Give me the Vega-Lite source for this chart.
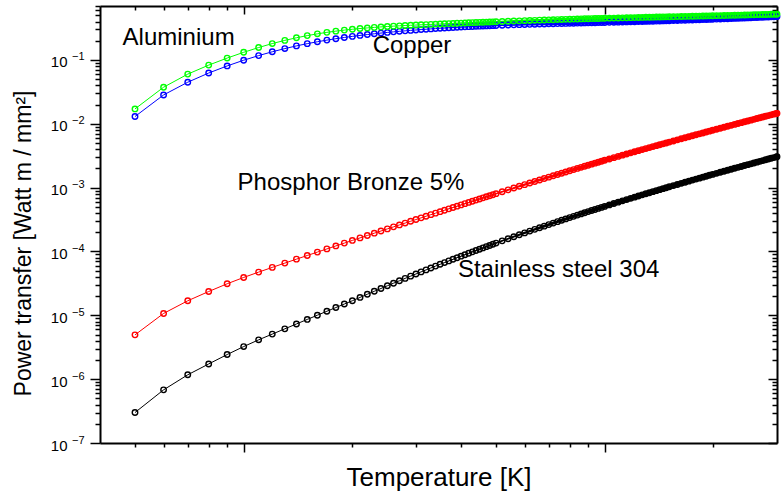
{
"$schema": "https://vega.github.io/schema/vega-lite/v6.json",
"width": 677, "height": 437,
"autosize": {"type": "none"},
"padding": {"left": 100, "top": 6, "right": 6, "bottom": 55},
"background": "white",
"config": {"view": {"stroke": null}, "font": "Liberation Sans"},
"datasets": {
"curves": [
{"T":5,"Al":0.0171,"Cu":0.0130,"PB":4.94e-6,"SS":3.00e-7},
{"T":6,"Al":0.0374,"Cu":0.0283,"PB":1.07e-5,"SS":6.80e-7},
{"T":7,"Al":0.0600,"Cu":0.0448,"PB":1.69e-5,"SS":1.17e-6},
{"T":8,"Al":0.0830,"Cu":0.0624,"PB":2.36e-5,"SS":1.73e-6},
{"T":9,"Al":0.1070,"Cu":0.0806,"PB":3.12e-5,"SS":2.43e-6},
{"T":10,"Al":0.1318,"Cu":0.0990,"PB":3.92e-5,"SS":3.24e-6},
{"T":11,"Al":0.1565,"Cu":0.1170,"PB":4.75e-5,"SS":4.13e-6},
{"T":12,"Al":0.1805,"Cu":0.1343,"PB":5.631e-5,"SS":5.08e-6},
{"T":13,"Al":0.2025,"Cu":0.1507,"PB":6.575e-5,"SS":6.14e-6},
{"T":14,"Al":0.2225,"Cu":0.1660,"PB":7.581e-5,"SS":7.32e-6},
{"T":15,"Al":0.2405,"Cu":0.1800,"PB":8.65e-5,"SS":8.62e-6},
{"T":16,"Al":0.2565,"Cu":0.1928,"PB":9.78e-5,"SS":1.004e-5},
{"T":17,"Al":0.2705,"Cu":0.2045,"PB":1.097e-4,"SS":1.158e-5},
{"T":18,"Al":0.2827,"Cu":0.2152,"PB":1.222e-4,"SS":1.324e-5},
{"T":19,"Al":0.2933,"Cu":0.2250,"PB":1.353e-4,"SS":1.502e-5},
{"T":20,"Al":0.3025,"Cu":0.2340,"PB":1.490e-4,"SS":1.692e-5},
{"T":21,"Al":0.3105,"Cu":0.2423,"PB":1.633e-4,"SS":1.907e-5},
{"T":22,"Al":0.3175,"Cu":0.2500,"PB":1.781e-4,"SS":2.137e-5},
{"T":23,"Al":0.3237,"Cu":0.2571,"PB":1.935e-4,"SS":2.378e-5},
{"T":24,"Al":0.3292,"Cu":0.2637,"PB":2.094e-4,"SS":2.633e-5},
{"T":25,"Al":0.3341,"Cu":0.2698,"PB":2.259e-4,"SS":2.902e-5},
{"T":26,"Al":0.3385,"Cu":0.2755,"PB":2.429e-4,"SS":3.183e-5},
{"T":27,"Al":0.3425,"Cu":0.2808,"PB":2.605e-4,"SS":3.478e-5},
{"T":28,"Al":0.3461,"Cu":0.2858,"PB":2.786e-4,"SS":3.786e-5},
{"T":29,"Al":0.3494,"Cu":0.2905,"PB":2.973e-4,"SS":4.107e-5},
{"T":30,"Al":0.3524,"Cu":0.2949,"PB":3.165e-4,"SS":4.442e-5},
{"T":31,"Al":0.3552,"Cu":0.2990,"PB":3.363e-4,"SS":4.789e-5},
{"T":32,"Al":0.3580,"Cu":0.3029,"PB":3.565e-4,"SS":5.148e-5},
{"T":33,"Al":0.3607,"Cu":0.3066,"PB":3.773e-4,"SS":5.518e-5},
{"T":34,"Al":0.3633,"Cu":0.3101,"PB":3.985e-4,"SS":5.900e-5},
{"T":35,"Al":0.3658,"Cu":0.3134,"PB":4.203e-4,"SS":6.294e-5},
{"T":36,"Al":0.3683,"Cu":0.3165,"PB":4.425e-4,"SS":6.700e-5},
{"T":37,"Al":0.3708,"Cu":0.3194,"PB":4.653e-4,"SS":7.117e-5},
{"T":38,"Al":0.3731,"Cu":0.3222,"PB":4.885e-4,"SS":7.546e-5},
{"T":39,"Al":0.3754,"Cu":0.3249,"PB":5.123e-4,"SS":7.987e-5},
{"T":40,"Al":0.3777,"Cu":0.3274,"PB":5.365e-4,"SS":8.439e-5},
{"T":41,"Al":0.3799,"Cu":0.3298,"PB":5.612e-4,"SS":8.903e-5},
{"T":42,"Al":0.3820,"Cu":0.3320,"PB":5.864e-4,"SS":9.376e-5},
{"T":43,"Al":0.3841,"Cu":0.3341,"PB":6.120e-4,"SS":9.860e-5},
{"T":44,"Al":0.3861,"Cu":0.3362,"PB":6.381e-4,"SS":1.0354e-4},
{"T":45,"Al":0.3881,"Cu":0.3381,"PB":6.646e-4,"SS":1.0858e-4},
{"T":46,"Al":0.3900,"Cu":0.3399,"PB":6.916e-4,"SS":1.1372e-4},
{"T":47,"Al":0.3919,"Cu":0.3417,"PB":7.190e-4,"SS":1.1897e-4},
{"T":48,"Al":0.3937,"Cu":0.3433,"PB":7.469e-4,"SS":1.2431e-4},
{"T":49,"Al":0.3955,"Cu":0.3449,"PB":7.752e-4,"SS":1.2975e-4},
{"T":50,"Al":0.3972,"Cu":0.3464,"PB":8.040e-4,"SS":1.3530e-4},
{"T":52,"Al":0.4005,"Cu":0.3493,"PB":8.628e-4,"SS":1.4666e-4},
{"T":54,"Al":0.4037,"Cu":0.3520,"PB":9.232e-4,"SS":1.5836e-4},
{"T":56,"Al":0.4068,"Cu":0.3545,"PB":9.852e-4,"SS":1.7041e-4},
{"T":58,"Al":0.4097,"Cu":0.3568,"PB":1.0488e-3,"SS":1.8280e-4},
{"T":60,"Al":0.4125,"Cu":0.3589,"PB":1.1140e-3,"SS":1.9552e-4},
{"T":62,"Al":0.4151,"Cu":0.3609,"PB":1.1807e-3,"SS":2.0857e-4},
{"T":64,"Al":0.4177,"Cu":0.3628,"PB":1.2486e-3,"SS":2.2192e-4},
{"T":66,"Al":0.4201,"Cu":0.3646,"PB":1.3179e-3,"SS":2.3556e-4},
{"T":68,"Al":0.4224,"Cu":0.3663,"PB":1.3884e-3,"SS":2.4951e-4},
{"T":70,"Al":0.4247,"Cu":0.3679,"PB":1.4603e-3,"SS":2.6375e-4},
{"T":72,"Al":0.4268,"Cu":0.3695,"PB":1.5334e-3,"SS":2.7828e-4},
{"T":74,"Al":0.4289,"Cu":0.3710,"PB":1.6079e-3,"SS":2.9309e-4},
{"T":76,"Al":0.4308,"Cu":0.3724,"PB":1.6836e-3,"SS":3.0817e-4},
{"T":78,"Al":0.4327,"Cu":0.3738,"PB":1.7607e-3,"SS":3.2353e-4},
{"T":80,"Al":0.4345,"Cu":0.3751,"PB":1.8390e-3,"SS":3.3917e-4},
{"T":82,"Al":0.4362,"Cu":0.3764,"PB":1.9185e-3,"SS":3.5506e-4},
{"T":84,"Al":0.4379,"Cu":0.3777,"PB":1.9990e-3,"SS":3.7119e-4},
{"T":86,"Al":0.4395,"Cu":0.3789,"PB":2.0805e-3,"SS":3.8755e-4},
{"T":88,"Al":0.4411,"Cu":0.3801,"PB":2.1630e-3,"SS":4.0415e-4},
{"T":90,"Al":0.4426,"Cu":0.3812,"PB":2.2465e-3,"SS":4.2098e-4},
{"T":92,"Al":0.4440,"Cu":0.3823,"PB":2.3310e-3,"SS":4.3805e-4},
{"T":94,"Al":0.4454,"Cu":0.3834,"PB":2.4165e-3,"SS":4.5535e-4},
{"T":96,"Al":0.4468,"Cu":0.3845,"PB":2.5030e-3,"SS":4.7289e-4},
{"T":98,"Al":0.4481,"Cu":0.3856,"PB":2.5905e-3,"SS":4.9066e-4},
{"T":100,"Al":0.4494,"Cu":0.3866,"PB":2.6790e-3,"SS":5.0866e-4},
{"T":103,"Al":0.4512,"Cu":0.3881,"PB":2.8133e-3,"SS":5.3606e-4},
{"T":106,"Al":0.4529,"Cu":0.3896,"PB":2.9491e-3,"SS":5.6389e-4},
{"T":109,"Al":0.4546,"Cu":0.3911,"PB":3.0864e-3,"SS":5.9215e-4},
{"T":112,"Al":0.4563,"Cu":0.3926,"PB":3.2252e-3,"SS":6.2085e-4},
{"T":115,"Al":0.4580,"Cu":0.3940,"PB":3.3656e-3,"SS":6.4997e-4},
{"T":118,"Al":0.4596,"Cu":0.3955,"PB":3.5075e-3,"SS":6.7953e-4},
{"T":121,"Al":0.4611,"Cu":0.3970,"PB":3.6510e-3,"SS":7.0952e-4},
{"T":124,"Al":0.4626,"Cu":0.3985,"PB":3.7960e-3,"SS":7.3990e-4},
{"T":127,"Al":0.4641,"Cu":0.3999,"PB":3.9425e-3,"SS":7.7066e-4},
{"T":130,"Al":0.4656,"Cu":0.4014,"PB":4.0905e-3,"SS":8.0181e-4},
{"T":133,"Al":0.4670,"Cu":0.4029,"PB":4.2401e-3,"SS":8.3334e-4},
{"T":136,"Al":0.4684,"Cu":0.4043,"PB":4.3912e-3,"SS":8.6526e-4},
{"T":139,"Al":0.4698,"Cu":0.4058,"PB":4.5438e-3,"SS":8.9756e-4},
{"T":142,"Al":0.4711,"Cu":0.4072,"PB":4.6979e-3,"SS":9.3023e-4},
{"T":145,"Al":0.4724,"Cu":0.4086,"PB":4.8536e-3,"SS":9.6325e-4},
{"T":148,"Al":0.4736,"Cu":0.4101,"PB":5.0108e-3,"SS":9.9659e-4},
{"T":151,"Al":0.4748,"Cu":0.4115,"PB":5.1696e-3,"SS":1.03028e-3},
{"T":155,"Al":0.4764,"Cu":0.4134,"PB":5.3835e-3,"SS":1.07571e-3},
{"T":159,"Al":0.4779,"Cu":0.4153,"PB":5.6000e-3,"SS":1.12174e-3},
{"T":163,"Al":0.4795,"Cu":0.4172,"PB":5.8190e-3,"SS":1.16835e-3},
{"T":167,"Al":0.4810,"Cu":0.4191,"PB":6.0406e-3,"SS":1.21546e-3},
{"T":171,"Al":0.4824,"Cu":0.4210,"PB":6.2648e-3,"SS":1.26309e-3},
{"T":175,"Al":0.4839,"Cu":0.4228,"PB":6.4915e-3,"SS":1.31123e-3},
{"T":179,"Al":0.4853,"Cu":0.4247,"PB":6.7208e-3,"SS":1.35988e-3},
{"T":183,"Al":0.4867,"Cu":0.4266,"PB":6.9526e-3,"SS":1.40905e-3},
{"T":187,"Al":0.4881,"Cu":0.4284,"PB":7.1870e-3,"SS":1.45872e-3},
{"T":191,"Al":0.4895,"Cu":0.4302,"PB":7.4240e-3,"SS":1.50891e-3},
{"T":195,"Al":0.4908,"Cu":0.4321,"PB":7.6635e-3,"SS":1.55961e-3},
{"T":199,"Al":0.4921,"Cu":0.4339,"PB":7.9056e-3,"SS":1.61082e-3},
{"T":204,"Al":0.4937,"Cu":0.4362,"PB":8.2113e-3,"SS":1.67552e-3},
{"T":209,"Al":0.4953,"Cu":0.4384,"PB":8.5196e-3,"SS":1.74091e-3},
{"T":214,"Al":0.4968,"Cu":0.4407,"PB":8.8303e-3,"SS":1.80700e-3},
{"T":219,"Al":0.4984,"Cu":0.4429,"PB":9.1436e-3,"SS":1.87377e-3},
{"T":224,"Al":0.4999,"Cu":0.4451,"PB":9.4593e-3,"SS":1.94125e-3},
{"T":229,"Al":0.5015,"Cu":0.4474,"PB":9.7776e-3,"SS":2.00941e-3},
{"T":234,"Al":0.5030,"Cu":0.4496,"PB":1.00983e-2,"SS":2.07827e-3},
{"T":239,"Al":0.5045,"Cu":0.4518,"PB":1.04216e-2,"SS":2.14782e-3},
{"T":244,"Al":0.5060,"Cu":0.4539,"PB":1.07473e-2,"SS":2.21807e-3},
{"T":249,"Al":0.5075,"Cu":0.4561,"PB":1.10756e-2,"SS":2.28900e-3},
{"T":254,"Al":0.5090,"Cu":0.4583,"PB":1.14065e-2,"SS":2.36061e-3},
{"T":259,"Al":0.5104,"Cu":0.4604,"PB":1.17404e-2,"SS":2.43287e-3},
{"T":264,"Al":0.5119,"Cu":0.4625,"PB":1.20773e-2,"SS":2.50576e-3},
{"T":269,"Al":0.5133,"Cu":0.4647,"PB":1.24172e-2,"SS":2.57929e-3},
{"T":274,"Al":0.5147,"Cu":0.4668,"PB":1.27601e-2,"SS":2.65347e-3},
{"T":279,"Al":0.5161,"Cu":0.4689,"PB":1.31060e-2,"SS":2.72828e-3},
{"T":284,"Al":0.5175,"Cu":0.4710,"PB":1.34549e-2,"SS":2.80373e-3},
{"T":289,"Al":0.5189,"Cu":0.4731,"PB":1.38068e-2,"SS":2.87982e-3},
{"T":294,"Al":0.5203,"Cu":0.4751,"PB":1.41617e-2,"SS":2.95655e-3},
{"T":299,"Al":0.5216,"Cu":0.4772,"PB":1.45196e-2,"SS":3.03392e-3},
{"T":300,"Al":0.5219,"Cu":0.4776,"PB":1.45915e-2,"SS":3.04947e-3}
],
"labels": [
{"T":4.62,"P":0.169,"label":"Aluminium"},
{"T":22.76,"P":0.128,"label":"Copper"},
{"T":9.62,"P":9.3e-4,"label":"Phosphor Bronze 5%"},
{"T":39.2,"P":4.02e-5,"label":"Stainless steel 304"}
]
},
"layer": [
{
"data": {"name": "curves"},
"transform": [{"fold": ["SS","PB","Cu","Al"], "as": ["series","P"]}],
"mark": {"type": "line", "strokeWidth": 1},
"encoding": {
"x": {"field": "T", "type": "quantitative", "scale": {"type": "log", "domain": [4,300], "nice": false},
 "axis": {"orient": "top", "values": [5,6,7,8,9,10,20,30,40,50,60,70,80,90,100,200], "labels": false, "grid": false, "title": null,
  "domainColor": "black", "domainWidth": 2, "tickColor": "black", "tickWidth": 1.5,
  "tickSize": {"condition": {"test": "datum.value==10||datum.value==100", "value": -8}, "value": -4}}},
"y": {"field": "P", "type": "quantitative", "scale": {"type": "log", "domain": [1e-7,0.7], "nice": false},
 "axis": {"orient": "right", "values": [1e-7,2e-7,3e-7,4e-7,5e-7,6e-7,7e-7,8e-7,9e-7,1e-6,2e-6,3e-6,4e-6,5e-6,6e-6,7e-6,8e-6,9e-6,1e-5,2e-5,3e-5,4e-5,5e-5,6e-5,7e-5,8e-5,9e-5,1e-4,2e-4,3e-4,4e-4,5e-4,6e-4,7e-4,8e-4,9e-4,1e-3,2e-3,3e-3,4e-3,5e-3,6e-3,7e-3,8e-3,9e-3,1e-2,2e-2,3e-2,4e-2,5e-2,6e-2,7e-2,8e-2,9e-2,0.1,0.2,0.3,0.4,0.5,0.6,0.7],
  "labels": false, "grid": false, "title": null,
  "domainColor": "black", "domainWidth": 2, "tickColor": "black", "tickWidth": 1.5,
  "tickSize": {"condition": {"test": "abs(log(datum.value)/LN10 - round(log(datum.value)/LN10)) < 0.001", "value": -9}, "value": -5}}},
"color": {"field": "series", "type": "nominal", "scale": {"domain": ["Al","Cu","PB","SS"], "range": ["#00ff00","#0000ff","#ff0000","#000000"]}, "legend": null}
}
},
{
"data": {"name": "curves"},
"transform": [{"filter": "datum.T >= 36"}, {"fold": ["SS","PB","Cu","Al"], "as": ["series","P"]}],
"mark": {"type": "trail"},
"encoding": {
"x": {"field": "T", "type": "quantitative", "scale": {"type": "log", "domain": [4,300], "nice": false}, "axis": null},
"y": {"field": "P", "type": "quantitative", "scale": {"type": "log", "domain": [1e-7,0.7], "nice": false}, "axis": null},
"size": {"field": "T", "type": "quantitative", "scale": {"type": "log", "domain": [40,120], "range": [0.5,5], "clamp": true}, "legend": null},
"color": {"field": "series", "type": "nominal", "scale": {"domain": ["Al","Cu","PB","SS"], "range": ["#00ff00","#0000ff","#ff0000","#000000"]}, "legend": null}
}
},
{
"data": {"name": "curves"},
"transform": [{"fold": ["Al","Cu","PB","SS"], "as": ["series","P"]}],
"mark": {"type": "point", "shape": "circle", "filled": false, "size": 30, "strokeWidth": 1.4, "opacity": 1},
"encoding": {
"x": {"field": "T", "type": "quantitative", "scale": {"type": "log", "domain": [4,300], "nice": false},
 "axis": {"orient": "bottom", "values": [5,6,7,8,9,10,20,30,40,50,60,70,80,90,100,200], "labels": false, "grid": false,
  "title": "Temperature [K]", "titleFontSize": 26, "titleFontWeight": "normal", "titleColor": "black", "titleFont": "Liberation Sans", "titlePadding": 12,
  "domainColor": "black", "domainWidth": 2, "tickColor": "black", "tickWidth": 1.5,
  "tickSize": {"condition": {"test": "datum.value==10||datum.value==100", "value": 9}, "value": 4}}},
"y": {"field": "P", "type": "quantitative", "scale": {"type": "log", "domain": [1e-7,0.7], "nice": false},
 "axis": {"orient": "left", "values": [1e-7,2e-7,3e-7,4e-7,5e-7,6e-7,7e-7,8e-7,9e-7,1e-6,2e-6,3e-6,4e-6,5e-6,6e-6,7e-6,8e-6,9e-6,1e-5,2e-5,3e-5,4e-5,5e-5,6e-5,7e-5,8e-5,9e-5,1e-4,2e-4,3e-4,4e-4,5e-4,6e-4,7e-4,8e-4,9e-4,1e-3,2e-3,3e-3,4e-3,5e-3,6e-3,7e-3,8e-3,9e-3,1e-2,2e-2,3e-2,4e-2,5e-2,6e-2,7e-2,8e-2,9e-2,0.1,0.2,0.3,0.4,0.5,0.6,0.7],
  "labelExpr": "abs(log(datum.value)/LN10 - round(log(datum.value)/LN10)) < 0.001 ? '10' : ''",
  "labelFont": "Liberation Sans", "labelFontSize": 15, "labelColor": "black", "labelPadding": 23, "labelOffset": 2, "grid": false,
  "title": "Power transfer  [Watt m / mm²]", "titleFontSize": 23, "titleFontWeight": "normal", "titleColor": "black", "titleFont": "Liberation Sans",
  "titleX": -77, "titleY": 237, "titleAlign": "center", "titleBaseline": "middle", "titleAngle": -90,
  "domainColor": "black", "domainWidth": 2, "tickColor": "black", "tickWidth": 1.5,
  "tickSize": {"condition": {"test": "abs(log(datum.value)/LN10 - round(log(datum.value)/LN10)) < 0.001", "value": 10}, "value": 5}}},
"color": {"field": "series", "type": "nominal", "scale": {"domain": ["Al","Cu","PB","SS"], "range": ["#00ff00","#0000ff","#ff0000","#000000"]}, "legend": null},
"order": {"field": "series", "sort": "descending"}
}
},
{
"data": {"name": "labels"},
"mark": {"type": "point", "opacity": 0},
"encoding": {
"x": {"field": "T", "type": "quantitative", "scale": {"type": "log", "domain": [4,300], "nice": false}, "axis": null},
"y": {"field": "P", "type": "quantitative", "scale": {"type": "log", "domain": [1e-7,0.7], "nice": false},
 "axis": {"orient": "left", "values": [1e-7,1e-6,1e-5,1e-4,1e-3,1e-2,0.1],
  "labelExpr": "'−' + format(-round(log(datum.value)/LN10), 'd')",
  "labelFont": "Liberation Sans", "labelFontSize": 11, "labelColor": "black", "labelPadding": 16, "labelOffset": -3,
  "domain": false, "ticks": false, "grid": false, "title": null}}
}
},
{
"data": {"name": "labels"},
"mark": {"type": "text", "align": "left", "baseline": "alphabetic", "fontSize": 24, "font": "Liberation Sans", "color": "black"},
"encoding": {
"x": {"field": "T", "type": "quantitative", "scale": {"type": "log", "domain": [4,300], "nice": false}, "axis": null},
"y": {"field": "P", "type": "quantitative", "scale": {"type": "log", "domain": [1e-7,0.7], "nice": false}, "axis": null},
"text": {"field": "label"}
}
}
],
"resolve": {"axis": {"x": "independent", "y": "independent"}}
}
